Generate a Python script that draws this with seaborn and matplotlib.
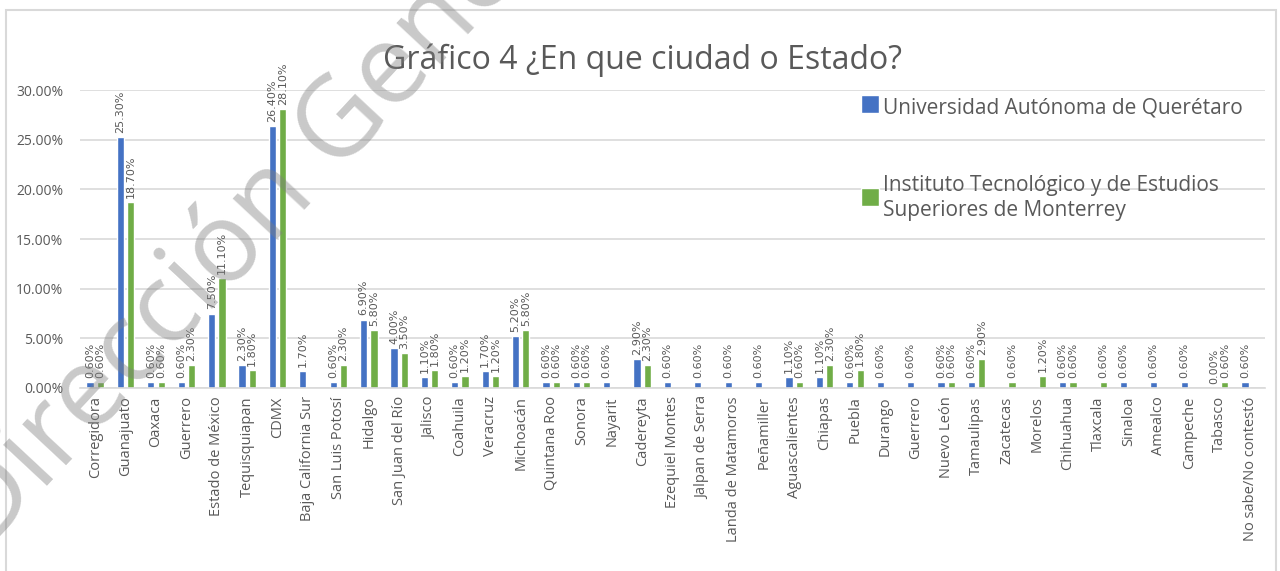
import numpy as np
import pandas as pd
import matplotlib
matplotlib.use("Agg")
import matplotlib.pyplot as plt
from matplotlib.patches import Rectangle
from matplotlib.ticker import FuncFormatter
import seaborn as sns

# categories (note: "Guerrero" appears twice in the original chart)
places = ["Corregidora", "Guanajuato", "Oaxaca", "Guerrero", "Estado de México",
          "Tequisquiapan", "CDMX", "Baja California Sur", "San Luis Potosí", "Hidalgo",
          "San Juan del Río", "Jalisco", "Coahuila", "Veracruz", "Michoacán",
          "Quintana Roo", "Sonora", "Nayarit", "Cadereyta", "Ezequiel Montes",
          "Jalpan de Serra", "Landa de Matamoros", "Peñamiller", "Aguascalientes", "Chiapas",
          "Puebla", "Durango", "Guerrero", "Nuevo León", "Tamaulipas",
          "Zacatecas", "Morelos", "Chihuahua", "Tlaxcala", "Sinaloa",
          "Amealco", "Campeche", "Tabasco", "No sabe/No contestó"]

nan = np.nan
uaq = [0.6, 25.3, 0.6, 0.6, 7.5, 2.3, 26.4, 1.7, 0.6, 6.9,
       4.0, 1.1, 0.6, 1.7, 5.2, 0.6, 0.6, 0.6, 2.9, 0.6,
       0.6, 0.6, 0.6, 1.1, 1.1, 0.6, 0.6, 0.6, 0.6, 0.6,
       nan, nan, 0.6, nan, 0.6, 0.6, 0.6, 0.0, 0.6]
itesm = [0.6, 18.7, 0.6, 2.3, 11.1, 1.8, 28.1, nan, 2.3, 5.8,
         3.5, 1.8, 1.2, 1.2, 5.8, 0.6, 0.6, nan, 2.3, nan,
         nan, nan, nan, 0.6, 2.3, 1.8, nan, nan, 0.6, 2.9,
         0.6, 1.2, 0.6, 0.6, nan, nan, nan, 0.6, nan]

series_names = ["Universidad Autónoma de Querétaro",
                "Instituto Tecnológico y de Estudios\nSuperiores de Monterrey"]

rows = []
for i in range(len(places)):
    rows.append({"pos": i, "serie": series_names[0], "valor": uaq[i]})
    rows.append({"pos": i, "serie": series_names[1], "valor": itesm[i]})
df = pd.DataFrame(rows).dropna()

grey = "#595959"
sns.set_style("white")
plt.rcParams["font.family"] = ["Open Sans", "DejaVu Sans"]

fig = plt.figure(figsize=(12.8, 5.71), dpi=100)
ax = fig.add_axes([0.0625, 0.3205, 0.926, 0.5215])

sns.barplot(data=df, x="pos", y="valor", hue="serie", order=list(range(len(places))),
            hue_order=series_names, palette=["#4472C4", "#70AD47"], saturation=1,
            width=0.68, gap=0.3, errorbar=None, ax=ax, zorder=2)

for cont in ax.containers:
    ax.bar_label(cont, fmt=lambda v: f"{v:.2f}%", rotation=90, padding=3,
                 fontsize=8, color=grey, family=["Liberation Sans Narrow", "DejaVu Sans"])

ax.set_ylim(0, 30)
ax.set_yticks(np.arange(0, 31, 5))
ax.yaxis.set_major_formatter(FuncFormatter(lambda v, p: f"{v:.2f}%"))
ax.set_xticks(range(len(places)))
ax.set_xticklabels(places, rotation=90, fontsize=10.5, color=grey)
ax.tick_params(axis="y", labelsize=10, colors=grey, length=0, pad=12)
ax.tick_params(axis="x", length=0, pad=6)
ax.set_xlim(-0.5, len(places) - 0.5)
ax.set_xlabel("")
ax.set_ylabel("")
ax.grid(axis="y", color="#d9d9d9", lw=1.2, zorder=0)
ax.set_axisbelow(True)
for s in ["top", "right", "left"]:
    ax.spines[s].set_visible(False)
ax.spines["bottom"].set_color("#d9d9d9")
ax.spines["bottom"].set_linewidth(1.2)

leg = ax.legend(loc="upper left", bbox_to_anchor=(0.643, 1.04), frameon=False,
                fontsize=15, labelcolor=grey, handlelength=0.65, handleheight=0.65,
                handletextpad=0.4, labelspacing=2.75)
for h in leg.legend_handles:
    h.set_width(13)
    h.set_height(13)

fig.text(0.502, 0.895, "Gráfico 4 ¿En que ciudad o Estado?", ha="center", va="center",
         fontsize=23, color=grey)

# watermark
fig.text(-0.011, 0.035, "Dirección General", rotation=47, rotation_mode="anchor",
         ha="left", va="baseline", fontsize=80, color="#7f7f7f", alpha=0.42, zorder=10)

fig.patches.append(Rectangle((0.005, -0.01), 0.992, 0.993, transform=fig.transFigure,
                             fill=False, ec="#d9d9d9", lw=1.5))

fig.savefig("out.png", dpi=100)
